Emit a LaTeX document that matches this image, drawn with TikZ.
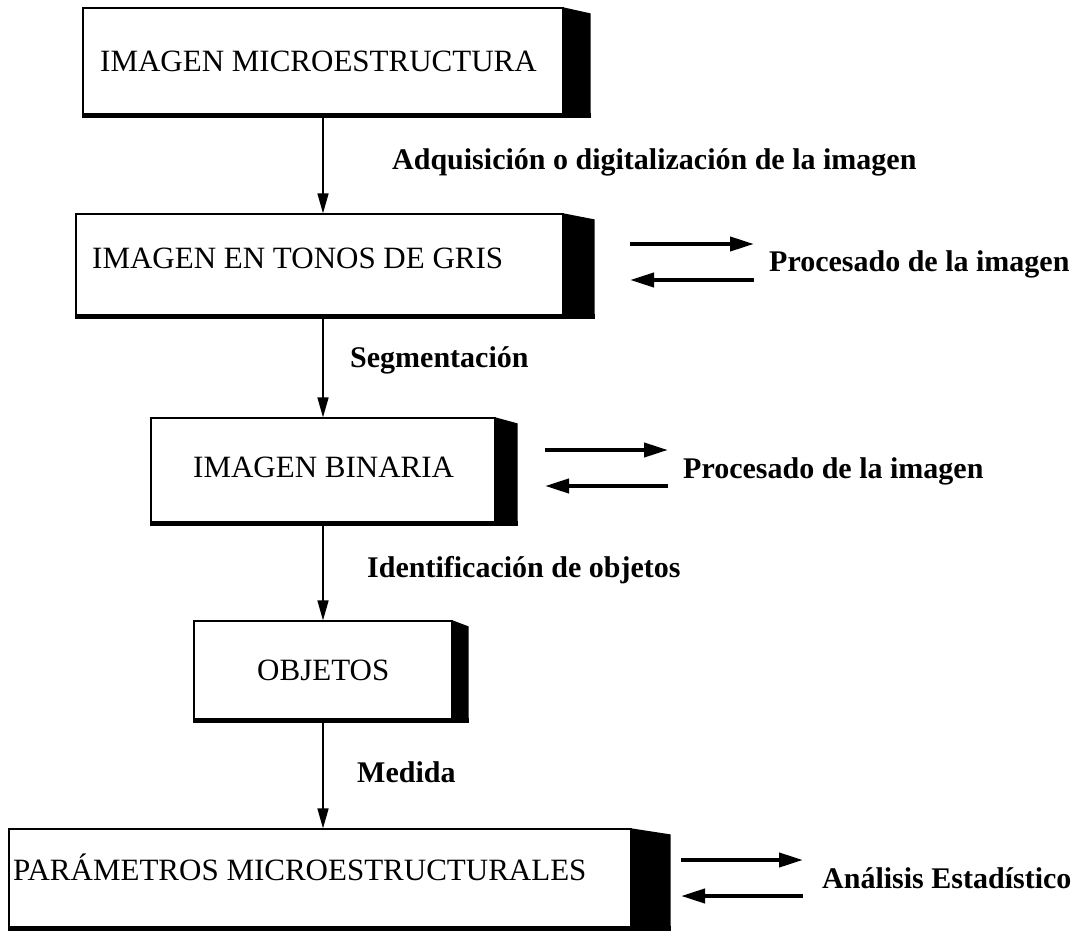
\documentclass[tikz,border=0pt]{standalone}
\usepackage{fontspec}
\setmainfont{Liberation Serif}
\usetikzlibrary{arrows.meta}
\newcommand\mkshade[2]{%
  \fill (#1.north east) -- ++(#2,6) -- ([xshift=#2pt]#1.south east) -- (#1.south east) -- cycle;
  \draw[line width=5pt] ([yshift=2.5pt]#1.south west) -- ([yshift=2.5pt,xshift=#2pt]#1.south east);}
\begin{document}
\begin{tikzpicture}[x=1pt,y=-1pt,
 face/.style={draw, line width=1.2pt, inner sep=0pt, rectangle},
 boxtext/.style={font=\fontsize{31}{37}\selectfont, inner sep=0pt, anchor=base west},
 lbl/.style={font=\fontsize{30}{36}\selectfont\bfseries, inner sep=0pt, anchor=base west},
 flow/.style={line width=1.5pt, -{Triangle[length=20pt,width=11pt]}},
 cyc/.style={line width=4pt, -{Triangle[length=24pt,width=14pt]}},
]
\useasboundingbox (0,0) rectangle (1079,933);
\coordinate (ax) at (323,0);

% boxes
\node[face, minimum width=480, minimum height=109] (b1) at (323,62.5) {};
\node[face, minimum width=487, minimum height=104] (b2) at (319.5,266) {};
\node[face, minimum width=344, minimum height=107] (b3) at (323,471.5) {};
\node[face, minimum width=258, minimum height=101] (b4) at (323,671.5) {};
\node[face, minimum width=622, minimum height=101] (b5) at (320,879.5) {};
\mkshade{b1}{27}
\mkshade{b2}{31}
\mkshade{b3}{22}
\mkshade{b4}{16}
\mkshade{b5}{39}

\node[boxtext] (t1) at (100,72) {IMAGEN MICROESTRUCTURA};
\node[boxtext] (t2) at (92,269) {IMAGEN EN TONOS DE GRIS};
\node[boxtext] (t3) at (193,477) {IMAGEN BINARIA};
\node[boxtext] (t4) at (257,680) {OBJETOS};
\node[boxtext] (t5) at (13,880) {PARÁMETROS MICROESTRUCTURALES};

% vertical flow
\draw[flow] (ax |- b1.south) -- (ax |- b2.north);
\draw[flow] (ax |- b2.south) -- (ax |- b3.north);
\draw[flow] (ax |- b3.south) -- (ax |- b4.north);
\draw[flow] (ax |- b4.south) -- (ax |- b5.north);

\node[lbl] (l1) at (392,170) {Adquisición o digitalización de la imagen};
\node[lbl] (l2) at (350,367) {Segmentación};
\node[lbl] (l3) at (367,577) {Identificación de objetos};
\node[lbl] (l4) at (357,782) {Medida};

% side loops
\coordinate (a2) at (630,244); \coordinate (a2e) at (754,244);
\coordinate (c2) at (630,280); \coordinate (c2e) at (754,280);
\draw[cyc] (a2) -- (a2e);
\draw[cyc] (c2e) -- (c2);
\node[lbl] (p2) at (769,272) {Procesado de la imagen};

\coordinate (a3) at (545,450); \coordinate (a3e) at (668,450);
\coordinate (c3) at (545,486); \coordinate (c3e) at (668,486);
\draw[cyc] (a3) -- (a3e);
\draw[cyc] (c3e) -- (c3);
\node[lbl] (p3) at (683,478) {Procesado de la imagen};

\coordinate (a5) at (681,860); \coordinate (a5e) at (803,860);
\coordinate (c5) at (681,896); \coordinate (c5e) at (803,896);
\draw[cyc] (a5) -- (a5e);
\draw[cyc] (c5e) -- (c5);
\node[lbl] (p5) at (822,888) {Análisis Estadístico};
\end{tikzpicture}
\end{document}
